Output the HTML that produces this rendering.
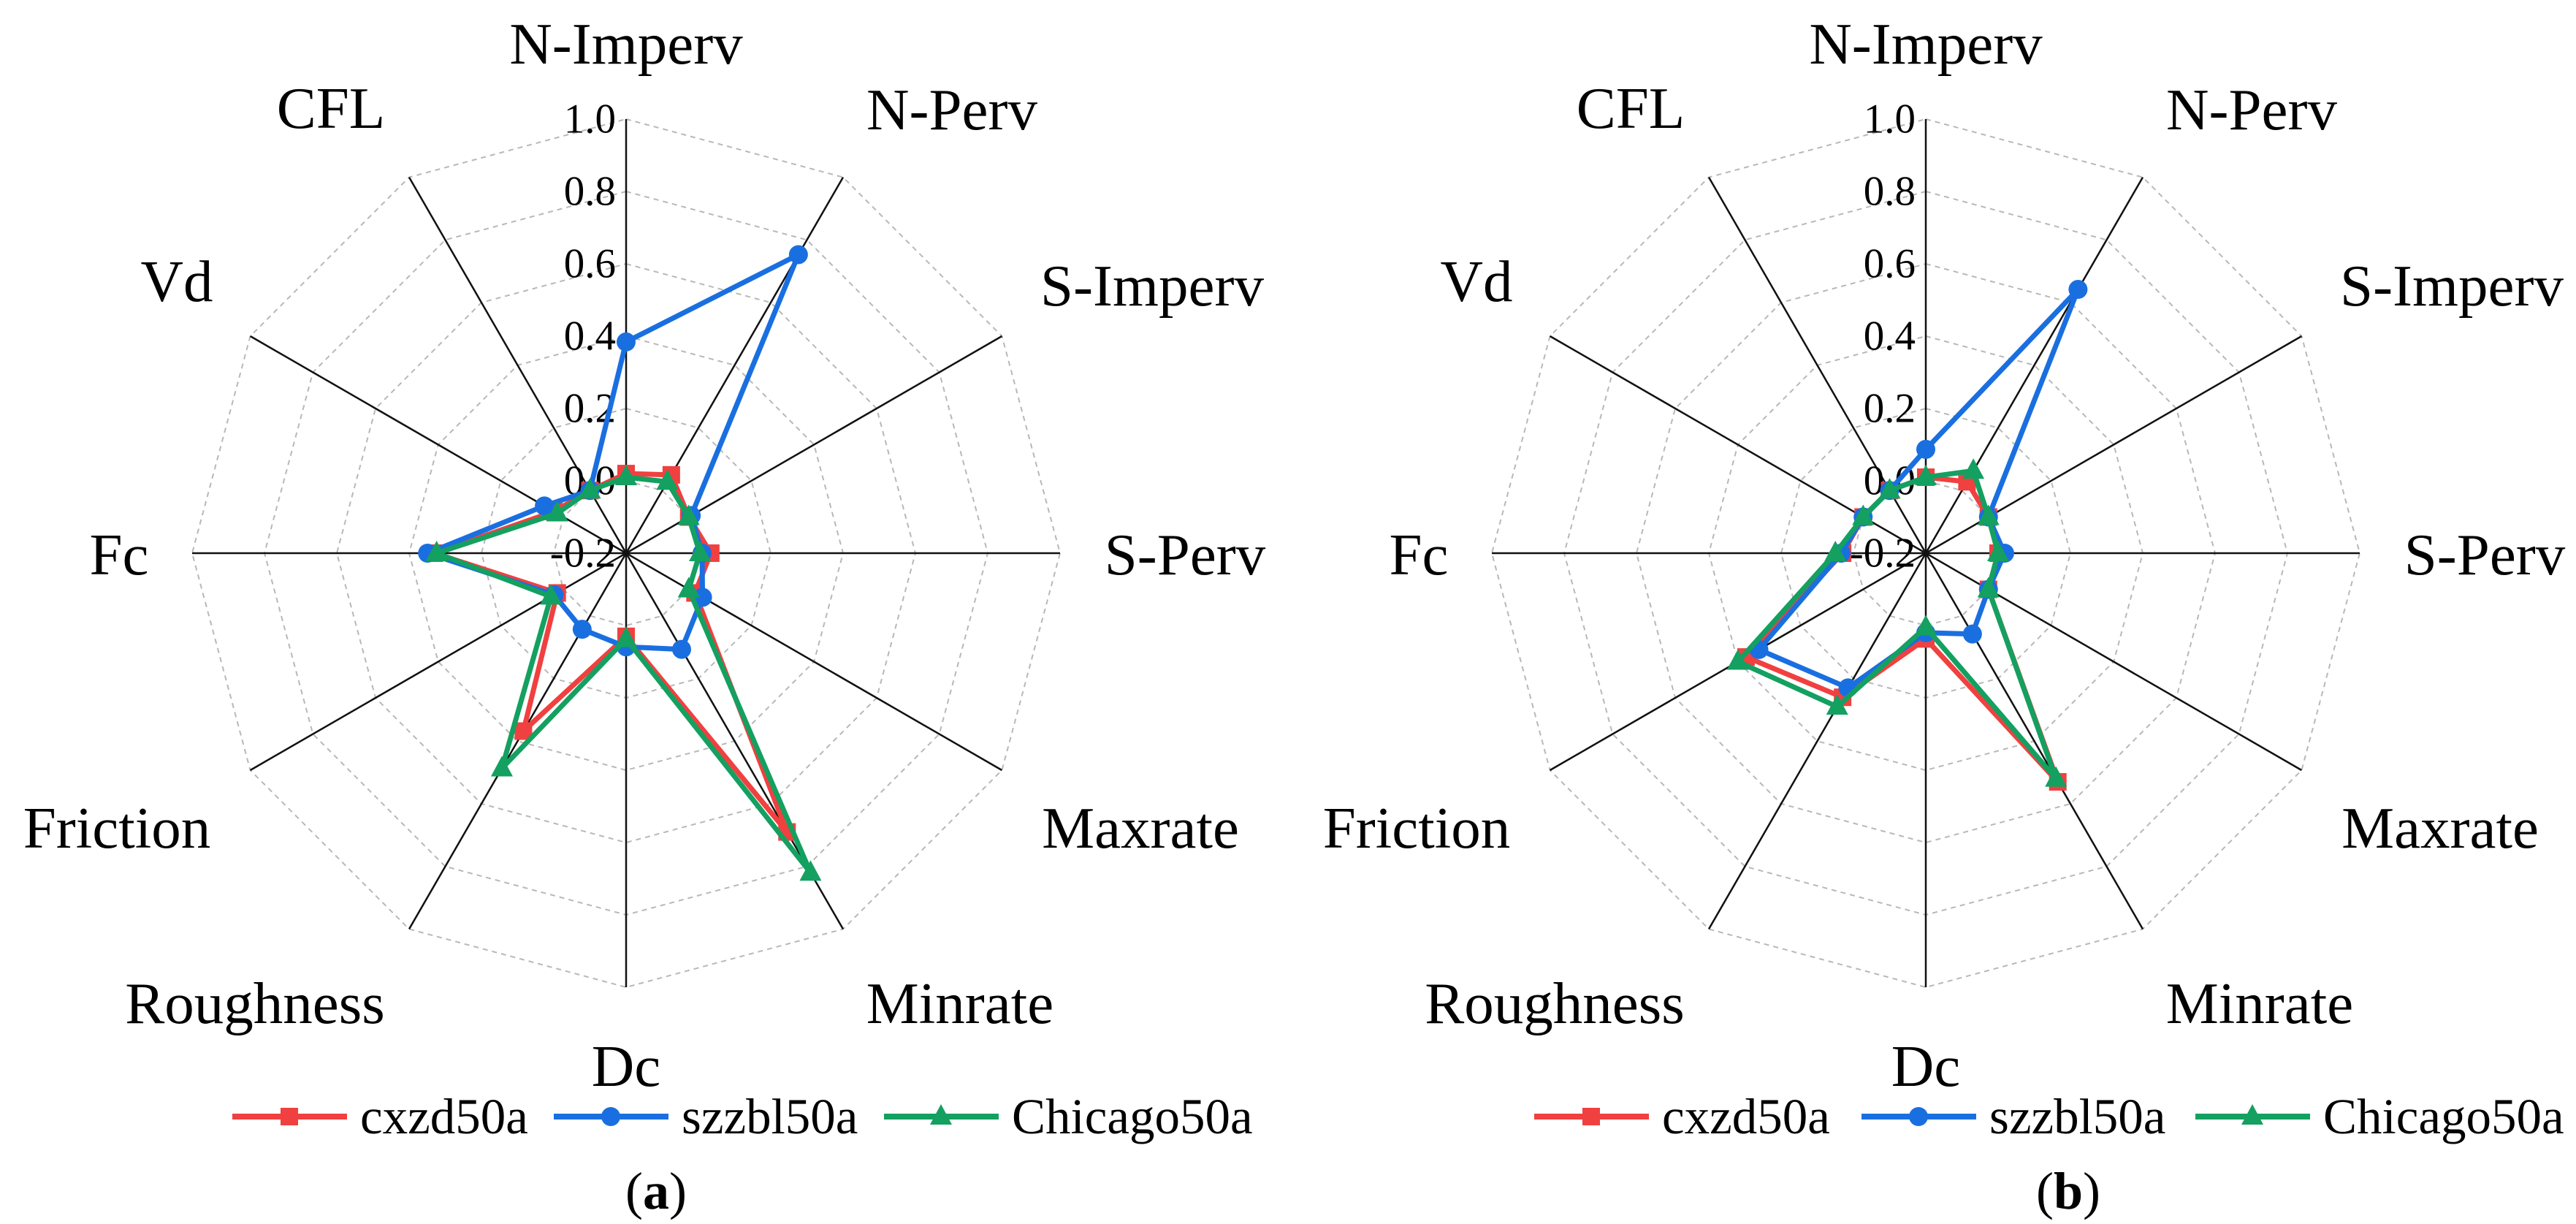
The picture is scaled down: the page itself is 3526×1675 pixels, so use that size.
<!DOCTYPE html>
<html>
<head>
<meta charset="utf-8">
<style>
html,body{margin:0;padding:0;background:#fff;}
svg{display:block;font-family:"Liberation Serif","DejaVu Serif",serif;}
svg text{font-family:"Liberation Serif","DejaVu Serif",serif;fill:#000;}
</style>
</head>
<body>
<svg id="fig" xmlns="http://www.w3.org/2000/svg" width="3526" height="1675" viewBox="0 0 3526 1675" font-family="Liberation Serif, DejaVu Serif, serif"></svg>
<script>
const categories = ["N-Imperv","N-Perv","S-Imperv","S-Perv","Maxrate","Minrate","Dc","Roughness","Friction","Fc","Vd","CFL"];
const tickLabels = ["-0.2","0.0","0.2","0.4","0.6","0.8","1.0"];
const tickValues = [-0.2,0.0,0.2,0.4,0.6,0.8,1.0];
const seriesNames = ["cxzd50a","szzbl50a","Chicago50a"];
// Panel (a)
const aCxzd    = [0.02,0.05,0.0,0.034,0.02,0.69,0.03,0.368,0.02,0.33,0.03,0.0];
const aSzzbl   = [0.384,0.753,0.008,0.01,0.044,0.107,0.059,0.043,0.03,0.349,0.061,0.0];
const aChicago = [0.01,0.028,0.0,0.004,0.0,0.82,0.037,0.487,0.04,0.324,0.02,0.0];
// Panel (b)
const bCxzd    = [0.01,0.028,0.0,0.0,0.0,0.53,0.037,0.26,0.374,0.03,0.0,0.0];
const bSzzbl   = [0.087,0.642,0.0,0.018,0.0,0.058,0.02,0.23,0.333,0.034,0.0,0.0];
const bChicago = [0.01,0.063,0.0,0.0,0.0,0.52,0.005,0.29,0.40,0.05,0.0,0.0];

const NS="http://www.w3.org/2000/svg";
const svg=document.getElementById('fig');
const FONT='"Liberation Serif", "DejaVu Serif", serif';
const R=594, VMIN=-0.2, VMAX=1.0;
const colors=["#f04040","#1a6fe0","#14a060"];
const labelOff=[[0,-697],[446,-607],[720,-366],[765,2],[704,376],[457,616],[0,702],[-508,616],[-697,376],[-694,2],[-615,-372],[-404,-609]];

function el(tag,attrs,parent){const e=document.createElementNS(NS,tag);for(const k in attrs)e.setAttribute(k,attrs[k]);if(tag==='text')e.style.fontFamily=FONT;(parent||svg).appendChild(e);return e;}
function rScale(v){return (v-VMIN)/(VMAX-VMIN)*R;}
function pt(cx,cy,i,v){const a=i*Math.PI*2/categories.length;const r=rScale(v);return [cx+r*Math.sin(a),cy-r*Math.cos(a)];}

function marker(g,k,x,y){
  let m;
  if(k===0){m=el('rect',{x:x-12,y:y-12,width:24,height:24,fill:colors[0]},g);}
  else if(k===1){m=el('circle',{cx:x,cy:y,r:13,fill:colors[1]},g);}
  else {m=el('polygon',{points:`${x},${y-17} ${x+15},${y+11} ${x-15},${y+11}`,fill:colors[2]},g);}
  
  
}

function panel(id,cx,cy,series,legendX,capX,capLetter){
  const g=el('g',{});
  
  
  const n=categories.length;
  for(let t=1;t<tickValues.length;t++){
    const pts=[];for(let i=0;i<n;i++)pts.push(pt(cx,cy,i,tickValues[t]).join(','));
    const ring=el('polygon',{points:pts.join(' '),fill:'none',stroke:'#b8b8b8','stroke-width':2,'stroke-dasharray':'7 6'},g);
    
    
  }
  for(let i=0;i<n;i++){
    const p=pt(cx,cy,i,VMAX);
    const ax=el('line',{x1:cx,y1:cy,x2:p[0],y2:p[1],stroke:'#111','stroke-width':2.5},g);
    
    
    const lab=el('text',{x:cx+labelOff[i][0],y:cy+labelOff[i][1],'font-size':81,'text-anchor':'middle','dominant-baseline':'central'},g);
    lab.textContent=categories[i];
    
    
  }
  for(let t=0;t<tickValues.length;t++){
    const tx=el('text',{x:cx-14,y:cy-rScale(tickValues[t]),'font-size':57,'text-anchor':'end','dominant-baseline':'central'},g);
    tx.textContent=tickLabels[t];
    
    
  }
  series.forEach((vals,k)=>{
    const sg=el('g',{},g);
    
    
    const pts=vals.map((v,i)=>pt(cx,cy,i,v));
    const poly=el('polygon',{points:pts.map(p=>p.join(',')).join(' '),fill:'none',stroke:colors[k],'stroke-width':7,'stroke-linejoin':'round'},sg);
    
    
    pts.forEach(p=>marker(sg,k,p[0],p[1]));
  });
  const lg=el('g',{},g);
  
  
  const ly=1528;
  legendX.forEach((lx,k)=>{
    const eg=el('g',{},lg);
    
    
    el('line',{x1:lx,y1:ly,x2:lx+157,y2:ly,stroke:colors[k],'stroke-width':8},eg);
    marker(eg,k,lx+78,ly);
    const t=el('text',{x:lx+175,y:ly,'font-size':69,'dominant-baseline':'central'},eg);
    t.textContent=seriesNames[k];
  });
  const cap=el('text',{x:capX,y:1630,'font-size':72,'text-anchor':'middle','dominant-baseline':'central'},g);
  
  
  cap.appendChild(document.createTextNode('('));
  const b=el('tspan',{'font-weight':'bold'},cap);
  b.textContent=capLetter;
  cap.appendChild(document.createTextNode(')'));
}

panel('a',857,757,[aCxzd,aSzzbl,aChicago],[318,758,1210],898,'a');
panel('b',2636,757,[bCxzd,bSzzbl,bChicago],[2100,2548,3005],2831,'b');
</script>
</body>
</html>
